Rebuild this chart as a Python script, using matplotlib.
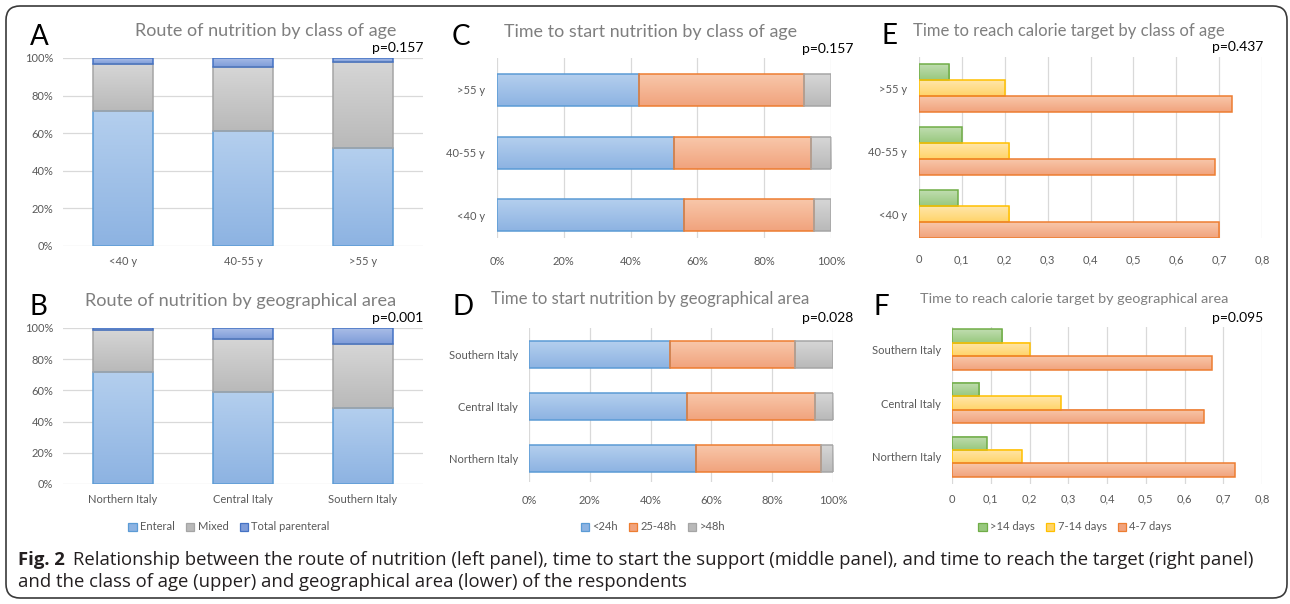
import numpy as np
import matplotlib
matplotlib.use('Agg')
import matplotlib.pyplot as plt
from matplotlib.colors import to_rgb
from matplotlib.patches import Patch, FancyBboxPatch
from matplotlib.transforms import IdentityTransform

W, H = 1290, 604

# categories
age_classes = ['<40 y', '40-55 y', '>55 y']
areas = ['Northern Italy', 'Central Italy', 'Southern Italy']

# route of nutrition (%)
route_labels = ['Enteral', 'Mixed', 'Total parenteral']
route_age_enteral = [72, 61, 52]
route_age_mixed = [25, 34, 46]
route_age_parenteral = [3, 5, 2]
route_area_enteral = [72, 59, 49]
route_area_mixed = [27, 34, 41]
route_area_parenteral = [1, 7, 10]

# time to start nutrition (%)
start_labels = ['<24h', '25-48h', '>48h']
start_age_24h = [56, 53, 42.5]
start_age_48h = [39, 41, 49.5]
start_age_over = [5, 6, 8]
start_area_24h = [55, 52, 46.5]
start_area_48h = [41, 42, 41]
start_area_over = [4, 6, 12.5]

# time to reach calorie target (fraction)
target_labels = ['>14 days', '7-14 days', '4-7 days']
target_age_14 = [0.09, 0.10, 0.07]
target_age_7_14 = [0.21, 0.21, 0.20]
target_age_4_7 = [0.70, 0.69, 0.73]
target_area_14 = [0.09, 0.07, 0.13]
target_area_7_14 = [0.18, 0.28, 0.20]
target_area_4_7 = [0.73, 0.65, 0.67]

p_values = ['p=0.157', 'p=0.001', 'p=0.157', 'p=0.028', 'p=0.437', 'p=0.095']

pct_ticks = [0, 20, 40, 60, 80, 100]
pct_labels = ['0%', '20%', '40%', '60%', '80%', '100%']
frac_ticks = [0, 0.1, 0.2, 0.3, 0.4, 0.5, 0.6, 0.7, 0.8]
frac_labels = ['0', '0,1', '0,2', '0,3', '0,4', '0,5', '0,6', '0,7', '0,8']

# (top colour, bottom colour, edge)
BLUE = ('#B4CFEE', '#8DB3E2', '#5B9BD5')
GREY = ('#D6D6D6', '#B9B9B9', '#A5A5A5')
NAVY = ('#A9BDE7', '#7E9CD9', '#4472C4')
ORANGE = ('#F8C7AA', '#F1A37D', '#ED7D31')
GREEN = ('#C0DDB0', '#98C87E', '#70AD47')
YELLOW = ('#FFE6AA', '#FFD469', '#FFC000')

plt.rcParams['font.family'] = ['Lato', 'DejaVu Sans']
TXT = '#595959'

fig = plt.figure(figsize=(W / 100, H / 100), dpi=100)


def px_axes(x0, y0, x1, y1):
    return fig.add_axes([x0 / W, 1 - y1 / H, (x1 - x0) / W, (y1 - y0) / H])


def fx(x):
    return x / W


def fy(y):
    return 1 - y / H


def shade(ax, bars, colours):
    top, bottom, edge = colours
    grad = np.linspace(to_rgb(top), to_rgb(bottom), 64).reshape(64, 1, 3)
    for b in bars:
        x, y, w, h = b.get_x(), b.get_y(), b.get_width(), b.get_height()
        ax.imshow(grad, extent=(x, x + w, y, y + h), origin='upper',
                  aspect='auto', interpolation='bilinear', zorder=2)
        b.set_facecolor('none')
        b.set_edgecolor(edge)
        b.set_linewidth(1.1)
        b.set_zorder(3)


def style(ax, grid_axis, xpad, ypad):
    for s in ax.spines.values():
        s.set_visible(False)
    ax.tick_params(length=0, labelsize=8, labelcolor=TXT)
    ax.tick_params(axis='x', pad=xpad)
    ax.tick_params(axis='y', pad=ypad)
    ax.grid(axis=grid_axis, color='#D9D9D9', lw=0.9)
    ax.set_axisbelow(True)


def route_panel(box, cats, enteral, mixed, parenteral, xpad):
    ax = px_axes(*box)
    x = np.arange(len(cats))
    b1 = ax.bar(x, enteral, 0.5)
    b2 = ax.bar(x, mixed, 0.5, bottom=enteral)
    b3 = ax.bar(x, parenteral, 0.5, bottom=np.add(enteral, mixed))
    shade(ax, b1, BLUE)
    shade(ax, b2, GREY)
    shade(ax, b3, NAVY)
    ax.set_xticks(x, cats)
    ax.set_yticks(pct_ticks, pct_labels)
    ax.set_xlim(-0.5, 2.5)
    ax.set_ylim(0, 100)
    style(ax, 'y', xpad, 7)
    return ax


def start_panel(box, cats, a, b, c, ylim, xpad, ypad):
    ax = px_axes(*box)
    y = np.arange(len(cats))
    h1 = ax.barh(y, a, 0.51)
    h2 = ax.barh(y, b, 0.51, left=a)
    h3 = ax.barh(y, c, 0.51, left=np.add(a, b))
    shade(ax, h1, BLUE)
    shade(ax, h2, ORANGE)
    shade(ax, h3, GREY)
    ax.set_yticks(y, cats)
    ax.set_xticks(pct_ticks, pct_labels)
    ax.set_xlim(0, 100)
    ax.set_ylim(*ylim)
    style(ax, 'x', xpad, ypad)
    return ax


def target_panel(box, cats, d14, d7, d4, hgt, ylim, xpad, ypad):
    ax = px_axes(*box)
    y = np.arange(len(cats))
    g = ax.barh(y + hgt, d14, hgt)
    m = ax.barh(y, d7, hgt)
    o = ax.barh(y - hgt, d4, hgt)
    shade(ax, g, GREEN)
    shade(ax, m, YELLOW)
    shade(ax, o, ORANGE)
    ax.set_yticks(y, cats)
    ax.set_xticks(frac_ticks, frac_labels)
    ax.set_xlim(0, 0.8)
    ax.set_ylim(*ylim)
    style(ax, 'x', xpad, ypad)
    return ax


route_panel((63, 58, 423, 246), age_classes, route_age_enteral,
            route_age_mixed, route_age_parenteral, 7)
route_panel((63, 328, 423, 484), areas, route_area_enteral,
            route_area_mixed, route_area_parenteral, 7)
start_panel((497, 58, 831, 238), age_classes, start_age_24h, start_age_48h,
            start_age_over, (-0.36, 2.51), 13, 8.5)
start_panel((529, 328, 833, 482), areas, start_area_24h, start_area_48h,
            start_area_over, (-0.45, 2.51), 9, 8)
target_panel((919, 57, 1262, 238), age_classes, target_age_14, target_age_7_14,
             target_age_4_7, 0.254, (-0.38, 2.5), 11.5, 8.5)
target_panel((952, 327, 1262, 484), areas, target_area_14, target_area_7_14,
             target_area_4_7, 0.25, (-0.51, 2.42), 7, 8)

# titles, panel letters, p values
titles = [('Route of nutrition by class of age', 266, 31, 13),
          ('Route of nutrition by geographical area', 241, 301, 13.1),
          ('Time to start nutrition by class of age', 651, 32, 12.9),
          ('Time to start nutrition by geographical area', 650, 299, 12.1),
          ('Time to reach calorie target by class of age', 1069, 31, 12),
          ('Time to reach calorie target by geographical area', 1074, 299, 10.4)]
for t, x, y, s in titles:
    fig.text(fx(x), fy(y), t, ha='center', va='center', fontsize=s, color='#7F7F7F')

letters = [('A', 30, 37), ('B', 30, 307), ('C', 452, 37),
           ('D', 452, 307), ('E', 881, 36), ('F', 874, 307)]
for t, x, y in letters:
    fig.text(fx(x), fy(y), t, ha='left', va='center', fontsize=20, color='black')

p_pos = [(423, 48), (423, 318), (853, 49), (853, 318), (1263, 47), (1263, 318)]
for p, (x, y) in zip(p_values, p_pos):
    fig.text(fx(x), fy(y), p, ha='right', va='center', fontsize=10, color='black')

# legends
for labels, cols, x in [(route_labels, [BLUE, GREY, NAVY], 229),
                        (start_labels, [BLUE, ORANGE, GREY], 653),
                        (target_labels, [GREEN, YELLOW, ORANGE], 1075)]:
    handles = [Patch(facecolor=c[1], edgecolor=c[2], lw=0.9) for c in cols]
    fig.legend(handles, labels, loc='center', bbox_to_anchor=(fx(x), fy(527)),
               ncol=3, frameon=False, fontsize=8, labelcolor=TXT,
               handlelength=0.75, handleheight=0.75, handletextpad=0.3,
               columnspacing=1.0, borderpad=0)

# border
fig.add_artist(FancyBboxPatch((6, 6), 1281, 592, boxstyle='round,pad=0,rounding_size=14',
                              transform=IdentityTransform(), fill=False,
                              edgecolor='#3A3A3A', lw=1.2))

# caption
cap_font = 'Open Sans'
cap = fig.add_axes([0, 0, 1, 1])
cap.axis('off')
cap.set_zorder(-1)
head = cap.text(fx(18), fy(560), 'Fig. 2', ha='left', va='center', fontsize=13.3,
                fontweight='bold', family=cap_font, color='#231F20')
cap.annotate('Relationship between the route of nutrition (left panel), time to start the support '
             '(middle panel), and time to reach the target (right panel)',
             xy=(1, 0.5), xycoords=head, xytext=(6, 0), textcoords='offset points',
             ha='left', va='center', fontsize=13.3, family=cap_font, color='#231F20')
cap.text(fx(18), fy(582), 'and the class of age (upper) and geographical area (lower) of the respondents',
         ha='left', va='center', fontsize=13.3, family=cap_font, color='#231F20')

fig.savefig('out.png', dpi=100)
